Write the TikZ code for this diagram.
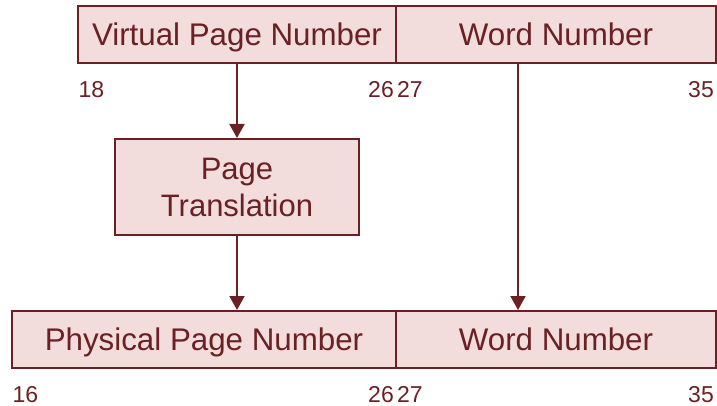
\documentclass[tikz,border=0pt]{standalone}
\usepackage{fontspec}
\setmainfont{Liberation Sans}
\usetikzlibrary{arrows.meta}
\definecolor{edge}{HTML}{6B2024}
\definecolor{boxfill}{HTML}{F2DCDC}
\tikzset{
  field/.style={draw=edge, fill=boxfill, line width=2pt, inner sep=0pt,
    text=edge, font=\fontsize{31.3}{37}\selectfont, align=center},
  onerow/.style={field, text height=22pt, text depth=0pt, minimum height=57pt},
  bitno/.style={inner sep=0pt, text=edge, font=\fontsize{23}{26}\selectfont},
  flow/.style={draw=edge, line width=2pt, -{Triangle[width=15pt,length=14pt]}}
}
\begin{document}
\begin{tikzpicture}[x=1pt, y=-1pt]
  \useasboundingbox (0,0) rectangle (717,406);
  % virtual address
  \node[onerow, minimum width=318pt] (vpn) at (237,34.5) {Virtual Page Number};
  \node[onerow, minimum width=320pt] (wtop) at (556,34.5) {Word Number};
  % translation step
  \node[field, font=\fontsize{31}{37}\selectfont, minimum width=244pt, minimum height=96pt] (pt) at (237,187) {Page\\Translation};
  % physical address
  \node[onerow, minimum width=384pt] (ppn) at (204,339.5) {Physical Page Number};
  \node[onerow, minimum width=320pt] (wbot) at (556,339.5) {Word Number};
  % bit positions
  \node[bitno, anchor=base west] (t18) at (78.5,98) {18};
  \node[bitno, anchor=base east] (t26) at (394,98) {26};
  \node[bitno, anchor=base west] (t27) at (397,98) {27};
  \node[bitno, anchor=base east] (t35) at (714,98) {35};
  \node[bitno, anchor=base west] (b16) at (12.5,402) {16};
  \node[bitno, anchor=base east] (b26) at (394,402) {26};
  \node[bitno, anchor=base west] (b27) at (397,402) {27};
  \node[bitno, anchor=base east] (b35) at (714,402) {35};
  % connectors
  \coordinate (wx) at (518,0);
  \draw[flow] (vpn.south) -- (pt.north);
  \draw[flow] (pt.south) -- (pt.south |- ppn.north);
  \draw[flow] (wtop.south -| wx) -- (wbot.north -| wx);
\end{tikzpicture}
\end{document}
